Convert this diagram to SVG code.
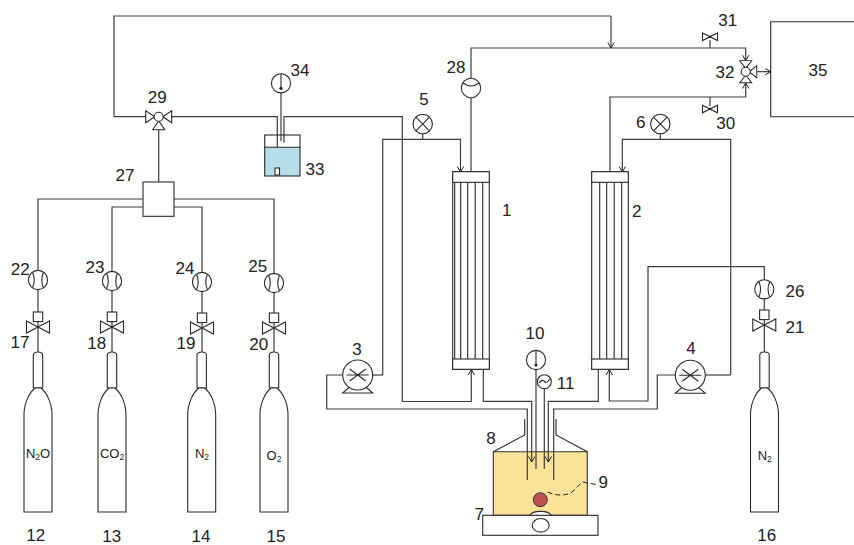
<svg xmlns="http://www.w3.org/2000/svg" width="854" height="545" viewBox="0 0 854 545">
<style>
text{font-family:"Liberation Sans",Arial,sans-serif;font-size:17px;fill:#222;text-anchor:middle}
text.g{font-size:13px}
tspan.s{font-size:8.5px}
.p{fill:none;stroke:#3c3c3c;stroke-width:1.2}
.a{marker-end:url(#arr)}
.w{fill:#fff;stroke:#2a2a2a;stroke-width:1.1}
.n{fill:none;stroke:#2a2a2a;stroke-width:1.1}
</style>
<defs>
<marker id="arr" markerWidth="10" markerHeight="10" refX="7" refY="4" orient="auto" markerUnits="userSpaceOnUse"><path d="M1.5,0.8 L7,4 L1.5,7.2" fill="none" stroke="#222" stroke-width="1"/></marker>
<g id="ball"><circle class="w" r="9.6"/><path class="n" d="M-5.5,-7.8 Q-2,0 -5.5,7.8 M5.5,-7.8 Q2,0 5.5,7.8"/></g>
<g id="valve"><rect class="w" x="-4.7" y="-15" width="9.4" height="9.6"/><path class="n" d="M-11.5,-6 L11.5,6 V-6 L-11.5,6 Z"/></g>
<g id="mini"><path class="n" d="M-7.5,-3.8 L7.5,3.8 V-3.8 L-7.5,3.8 Z"/><circle r="1.2" fill="#222"/></g>
<g id="bottle"><path class="w" d="M-4.7,36 V3 Q-4.7,0 0,0 Q4.7,0 4.7,3 V36 Z"/><path class="w" d="M-14,160 V63 C-14,50 -8,40 -3,36 H3 C8,40 14,50 14,63 V160 Z"/></g>
<g id="cross"><circle class="w" r="9.7"/><path class="n" d="M-6.8,-6.8 L6.8,6.8 M6.8,-6.8 L-6.8,6.8"/></g>
<g id="pump"><path class="n" d="M-7,11 L-15,18 H15 L7,11"/><circle class="w" r="15"/><path class="n" d="M-8,-6 L8,6 M8,-6 L-8,6 M-11,0 H11"/></g>
<g id="dial"><circle class="w" r="9.6"/><path class="n" d="M0,-9.6 V5"/><circle cy="5" r="1.6" fill="#222"/></g>
<path id="tri" class="w" d="M-13,-6 L-4,0 L-13,6 Z"/>
<g id="column"><rect class="w" x="0" y="0" width="36.6" height="197.6"/><rect class="w" x="0" y="0" width="36.6" height="10.6"/><rect class="w" x="0" y="187.3" width="36.6" height="10.3"/><path class="n" d="M8,10.6 V187.3 M15,10.6 V187.3 M22.500,10.6 V187.3 M30,10.6 V187.3"/></g>
</defs>
<rect width="854" height="545" fill="#fff"/>

<g id="node-8">
<path d="M493.300,451.700 H587.300 V515.300 H493.300 Z" fill="#fde29a" stroke="#333" stroke-width="1.100"/>
<path class="n" d="M493.300,451.700 L524.700,435 V419 M587.300,451.700 L556,435 V419"/>
<text x="491" y="444">8</text>
</g>

<g id="connectors">
<path class="p" d="M146,116.700 H114 V16 H611"/>
<path class="p a" d="M611,16 V48"/>
<path class="p a" d="M471,78 V48 H745.700 V60.700"/>
<path class="p" d="M471,98 V172"/>
<path class="p a" d="M610,172 V97 H745.700 V83"/>
<path class="p" d="M710,48 V40 M710,97 V106"/>
<path class="p a" d="M757,71.700 H770.700"/>
<path class="p" d="M171.500,116.700 H277.300 V170"/>
<path class="p" d="M158.700,129 V182"/>
<path class="p" d="M143,199 H38 V352 M174,199 H274 V352 M143,207 H112 V352 M174,207 H202 V352"/>
<path class="p" d="M281,93 V141"/>
<path class="p" d="M284,142.700 V116.700 H402.300 V401.500 H471.300"/>
<path class="p a" d="M471.300,401.500 V369.500"/>
<path class="p a" d="M382.700,375 V139.300 H460.500 V172"/>
<path class="p" d="M372.700,375 H382.700"/>
<path class="p" d="M422.700,133 V139.300 M660.300,133 V139.300"/>
<path class="p a" d="M730.700,375 V139.300 H622.300 V172"/>
<path class="p" d="M705,375 H730.700"/>
<path class="p" d="M343,375 H326.700 V409 H527.300 V480"/>
<path class="p a" d="M483.300,369.500 V401.300 H531.700 V462"/>
<path class="p" d="M536,369 V469 M544.300,388 V469"/>
<path class="p a" d="M598.300,369.500 V401.300 H548.300 V462"/>
<path class="p a" d="M764.300,353 V266.700 H648 V401 H609.300 V369.500"/>
<path class="p" d="M675,375 H657.300 V409 H553.700 V480"/>
<path d="M547.700,492 C556,496 566,496 572,492 C577,488 579,484 583,482 L596,484.500" fill="none" stroke="#222" stroke-width="1" stroke-dasharray="5 3"/>
</g>

<g id="node-1"><use href="#column" x="452.700" y="171.700"/><path class="n" d="M454.700,182.300 V359"/><text x="506.700" y="215.700">1</text></g>
<g id="node-2"><use href="#column" x="591.700" y="171.700"/><text x="636.700" y="216.700">2</text></g>
<g id="node-3"><use href="#pump" x="357.700" y="375"/><text x="357" y="355">3</text></g>
<g id="node-4"><use href="#pump" x="690.300" y="375.300"/><text x="691" y="354.300">4</text></g>
<g id="node-5"><use href="#cross" x="422.700" y="124"/><text x="424" y="105">5</text></g>
<g id="node-6"><use href="#cross" x="660.300" y="124"/><text x="640.700" y="128">6</text></g>
<g id="node-7"><rect class="w" x="482.700" y="515.300" width="115.300" height="20"/><ellipse class="w" cx="540.700" cy="525.300" rx="8.500" ry="6.800"/><text x="479.300" y="520">7</text></g>
<g id="node-9"><path class="w" d="M530,515.300 C532,510 549,510 551,515.300 Z"/><circle cx="540.300" cy="499.700" r="7" fill="#c0504d" stroke="#333" stroke-width="1"/><text x="603.300" y="488.300">9</text></g>
<g id="node-10"><use href="#dial" x="536" y="360"/><text x="535" y="339">10</text></g>
<g id="node-11"><circle class="w" cx="544.300" cy="381.700" r="7"/><path class="n" d="M539,383 Q542,379 544.500,381.500 T549.500,379"/><text x="565.700" y="389.300">11</text></g>

<g id="node-12"><use href="#bottle" x="38" y="352"/><text class="g" x="38" y="458">N<tspan class="s" dy="2">2</tspan><tspan dy="-2">O</tspan></text><text x="35.700" y="541">12</text></g>
<g id="node-13"><use href="#bottle" x="112" y="352"/><text class="g" x="112" y="457.700">CO<tspan class="s" dy="2">2</tspan></text><text x="111.700" y="542">13</text></g>
<g id="node-14"><use href="#bottle" x="201.700" y="352"/><text class="g" x="202" y="458">N<tspan class="s" dy="2">2</tspan></text><text x="201" y="542">14</text></g>
<g id="node-15"><use href="#bottle" x="274" y="352"/><text class="g" x="274" y="460">O<tspan class="s" dy="2">2</tspan></text><text x="276" y="542">15</text></g>
<g id="node-16"><use href="#bottle" x="764.500" y="352"/><text class="g" x="764.700" y="460">N<tspan class="s" dy="2">2</tspan></text><text x="766.700" y="541">16</text></g>

<g id="node-17"><use href="#valve" x="38" y="327"/><text x="20" y="347.700">17</text></g>
<g id="node-18"><use href="#valve" x="112" y="327"/><text x="96.700" y="349">18</text></g>
<g id="node-19"><use href="#valve" x="202" y="328"/><text x="186" y="349">19</text></g>
<g id="node-20"><use href="#valve" x="274" y="328"/><text x="258.700" y="350">20</text></g>
<g id="node-21"><use href="#valve" x="764.300" y="325"/><text x="795" y="332.700">21</text></g>
<g id="node-22"><use href="#ball" x="38" y="280"/><text x="20.300" y="275">22</text></g>
<g id="node-23"><use href="#ball" x="112" y="281"/><text x="95" y="273.300">23</text></g>
<g id="node-24"><use href="#ball" x="202" y="282"/><text x="185" y="274">24</text></g>
<g id="node-25"><use href="#ball" x="274" y="283"/><text x="257.700" y="271.700">25</text></g>
<g id="node-26"><use href="#ball" x="764.300" y="289.300"/><text x="795" y="296.500">26</text></g>
<g id="node-27"><rect class="w" x="143" y="182" width="31" height="34.300"/><text x="125" y="180.700">27</text></g>
<g id="node-28"><circle class="w" cx="471" cy="88" r="9.700"/><path class="n" d="M463,83 Q471,89 479,83"/><text x="456" y="72.500">28</text></g>
<g id="node-29"><use href="#tri" x="158.700" y="116.700"/><use href="#tri" transform="translate(158.700 116.700) rotate(180)"/><use href="#tri" transform="translate(158.700 116.700) rotate(-90)"/><circle class="w" cx="158.700" cy="116.700" r="4.500"/><text x="157.300" y="103.300">29</text></g>
<g id="node-30"><use href="#mini" x="710" y="109"/><text x="725.700" y="129">30</text></g>
<g id="node-31"><use href="#mini" x="710" y="36.700"/><text x="727.700" y="26">31</text></g>
<g id="node-32"><use href="#tri" transform="translate(745.700 71.700) rotate(90) scale(.85 1)"/><use href="#tri" transform="translate(745.700 71.700) rotate(-90) scale(.85 1)"/><use href="#tri" transform="translate(745.700 71.700) rotate(180) scale(.85 1)"/><circle class="w" cx="745.700" cy="71.700" r="4.500"/><text x="725" y="78">32</text></g>
<g id="node-33"><rect x="264.700" y="147.300" width="35.300" height="28.700" fill="#b7dde8"/><rect class="n" x="264.700" y="135" width="35.300" height="41"/><path class="n" d="M264.700,147.300 H300"/><rect class="w" x="275" y="168" width="4.500" height="7"/><text x="315" y="175">33</text></g>
<g id="node-34"><use href="#dial" x="281" y="83.300"/><text x="300" y="75.700">34</text></g>
<g id="node-35"><path class="n" d="M854,21.700 H770.700 V116.700 H854"/><text x="818" y="76">35</text></g>
</svg>
